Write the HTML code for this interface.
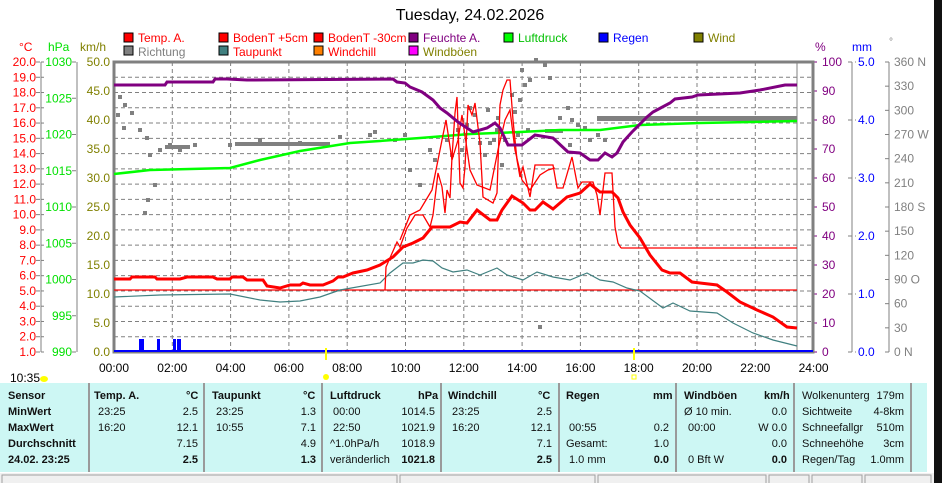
<!DOCTYPE html>
<html><head><meta charset="utf-8"><style>
body{margin:0;width:942px;height:483px;overflow:hidden;background:#fff;font-family:"Liberation Sans",sans-serif;position:relative}
svg{position:absolute;left:0;top:0}
.tb{position:absolute;left:0;top:383px;width:927px;height:89px;background:#cdf7f4;font-size:11px;color:#111}
.col{position:absolute;top:0;height:89px;border-right:2px solid #9a9a9a}
.r{position:absolute;white-space:nowrap}
.b{font-weight:bold}
</style></head><body>
<svg width="942" height="483" font-family="Liberation Sans, sans-serif">
<text x="470" y="20" font-size="16" text-anchor="middle">Tuesday, 24.02.2026</text>
<g font-size="12">
<rect x="124" y="33" width="9" height="9" fill="red" stroke="#000"/><text x="138" y="42" fill="red">Temp. A.</text>
<rect x="219" y="33" width="9" height="9" fill="red" stroke="#000"/><text x="233" y="42" fill="red">BodenT +5cm</text>
<rect x="314" y="33" width="9" height="9" fill="red" stroke="#000"/><text x="328" y="42" fill="red">BodenT -30cm</text>
<rect x="409" y="33" width="9" height="9" fill="#800080" stroke="#000"/><text x="423" y="42" fill="#800080">Feuchte A.</text>
<rect x="504" y="33" width="9" height="9" fill="#0f0" stroke="#000"/><text x="518" y="42" fill="#00c000">Luftdruck</text>
<rect x="599" y="33" width="9" height="9" fill="#00f" stroke="#000"/><text x="613" y="42" fill="#00f">Regen</text>
<rect x="694" y="33" width="9" height="9" fill="#808000" stroke="#000"/><text x="708" y="42" fill="#808000">Wind</text>
<rect x="124" y="46" width="9" height="9" fill="#808080" stroke="#000"/><text x="138" y="56" fill="#808080">Richtung</text>
<rect x="219" y="46" width="9" height="9" fill="#408080" stroke="#000"/><text x="233" y="56" fill="red">Taupunkt</text>
<rect x="314" y="46" width="9" height="9" fill="#ff8000" stroke="#000"/><text x="328" y="56" fill="red">Windchill</text>
<rect x="409" y="46" width="9" height="9" fill="#f0f" stroke="#000"/><text x="423" y="56" fill="#808000">Windböen</text>
</g>
<g font-size="12">
<text x="19" y="51" fill="red">°C</text><text x="48" y="51" fill="#00e000">hPa</text><text x="80" y="51" fill="#808000">km/h</text>
<text x="815" y="51" fill="#800080">%</text><text x="852" y="51" fill="#00f">mm</text><text x="889" y="45" fill="#808080" font-size="10">°</text>
</g>
<!-- left axes -->
<g stroke="#808080" stroke-width="1"><line x1="41" y1="62" x2="41" y2="352"/><line x1="77" y1="62" x2="77" y2="352"/><line x1="852" y1="62" x2="852" y2="352"/><line x1="889" y1="62" x2="889" y2="352"/></g>
<g font-size="12" fill="red" text-anchor="end" id="ct"></g>
<g font-size="12" fill="#00e000" text-anchor="end" id="pt"></g>
<g font-size="12" fill="#808000" text-anchor="end" id="wt"></g>
<g font-size="12" fill="#800080" id="ht"></g>
<g font-size="12" fill="#00f" id="mt"></g>
<g font-size="12" fill="#808080" id="dt"></g>
<g id="grid" stroke="#808080" stroke-dasharray="4,3" stroke-width="1"></g>
<rect x="114" y="62" width="699" height="290" fill="none" stroke="#808080" stroke-width="3"/>
<line x1="797" y1="62" x2="797" y2="352" stroke="#808080"/>
<g font-size="12" text-anchor="middle" id="xt"></g>
<!-- data -->
<line x1="114" y1="290" x2="797" y2="290" stroke="red" stroke-width="1.3"/>
<polyline fill="none" stroke="red" stroke-width="1.3" points="621,248 797,248"/>
<g fill="#808080">
<rect x="165" y="145" width="25" height="4"/><rect x="235" y="142" width="95" height="4"/><rect x="597" y="116" width="200" height="5"/><rect x="545" y="129" width="18" height="4"/>
</g>
<g fill="#808080" id="dots"></g>
<polyline fill="none" stroke="#00ff00" stroke-width="2.5" points="114,174 150,170 230,168 260,160 300,151 350,143 380,141 420,138 470,134 520,132 560,130 600,130 640,125 700,123 797,121"/>
<polyline fill="none" stroke="#408080" stroke-width="1.2" points="114,297 160,295 230,294 260,300 280,302 300,301 320,297 340,290 380,283 390,273 403,263 413,263 423,260 433,261 442,268 453,272 467,270 480,275 497,268 507,275 523,280 537,272 553,277 570,280 587,273 600,280 613,282 627,288 640,291 663,308 673,303 690,311 717,313 733,323 753,333 773,340 797,346"/>
<polyline fill="none" stroke="red" stroke-width="1.3" points="385,290 386,267 397,242 400,247 407,228 415,215 423,215 430,227 433,215 438,173 442,187 445,213 447,190 450,198 452,157 455,113 457,97 460,183 463,188 465,167 468,105 472,115 475,103 480,143 483,197 493,203 497,193 500,105 503,90 507,80 510,80 513,120 517,160 520,177 523,167 530,197 535,165 553,165 557,188 563,188 572,157 578,188 582,182 593,182 597,195 600,215 605,173 612,173 615,227 618,243 621,248"/>
<polyline fill="none" stroke="red" stroke-width="1.3" points="400,240 410,215 420,210 432,190 440,150 446,120 452,160 458,140 462,115 470,170 477,185 490,190 498,150 505,120 510,110 515,150 522,180 530,190 540,175 548,170 555,168"/>
<polyline fill="none" stroke="red" stroke-width="3" points="114,279 130,279 132,277 155,277 157,279 180,279 187,277 213,277 217,279 230,279 232,277 243,277 247,280 263,280 267,286 280,288 290,285 300,285 303,283 310,285 323,285 333,281 338,277 343,277 353,273 367,270 380,265 393,257 403,247 413,243 423,238 432,227 450,227 460,222 467,223 477,210 490,220 497,220 502,210 512,196 523,203 530,210 535,210 543,202 553,209 567,197 580,193 590,184 600,192 612,192 618,198 623,212 630,225 640,238 650,255 662,270 670,273 680,273 692,282 700,283 717,285 727,292 740,302 757,310 773,317 787,327 797,328"/>
<polyline fill="none" stroke="#800080" stroke-width="3" points="114,85 165,85 167,82 213,82 215,79 227,79 247,80 393,79 397,82 405,83 410,87 422,92 433,100 440,108 447,113 458,122 473,132 487,128 495,123 500,128 508,145 522,145 535,135 553,138 568,152 580,153 590,160 598,160 605,153 612,157 617,153 623,142 632,132 647,117 653,112 670,103 675,99 692,97 698,95 740,93 760,90 785,85 797,85"/>
<line x1="114" y1="351" x2="813" y2="351" stroke="#00f" stroke-width="2"/>
<g fill="#00f"><rect x="139" y="339" width="5" height="13"/><rect x="157" y="339" width="3" height="13"/><rect x="173" y="339" width="3" height="13"/><rect x="177" y="339" width="4" height="13"/></g>
<line x1="326" y1="348" x2="326" y2="360" stroke="#ff0" stroke-width="2"/>
<line x1="634" y1="348" x2="634" y2="360" stroke="#ff0" stroke-width="2"/>
<circle cx="326" cy="377" r="3" fill="#ff0"/><rect x="632" y="375" width="4" height="4" fill="none" stroke="#ff0"/>
<text x="10" y="382" font-size="12">10:35</text><ellipse cx="44" cy="379" rx="4" ry="3" fill="#ff0"/>
<rect x="934" y="0" width="8" height="483" fill="#111"/>
<rect x="0" y="473" width="934" height="10" fill="#f0f0f0"/>
<g fill="none" stroke="#a0a0a0"><rect x="2" y="475" width="395" height="9"/><rect x="400" y="475" width="195" height="9"/><rect x="598" y="475" width="168" height="9"/><rect x="769" y="475" width="40" height="9"/><rect x="812" y="475" width="50" height="9"/><rect x="865" y="475" width="66" height="9"/></g>
</svg>
<div class="tb">
<div class="col" style="left:0;width:88px"></div><div class="col" style="left:90px;width:113px"></div><div class="col" style="left:205px;width:116px"></div><div class="col" style="left:323px;width:117px"></div><div class="col" style="left:442px;width:116px"></div><div class="col" style="left:560px;width:115px"></div><div class="col" style="left:677px;width:116px"></div><div class="col" style="left:795px;width:115px"></div>
<div class="r b" style="left:8px;top:7px">Sensor</div><div class="r b" style="left:8px;top:23px">MinWert</div><div class="r b" style="left:8px;top:39px">MaxWert</div><div class="r b" style="left:8px;top:55px">Durchschnitt</div><div class="r b" style="left:8px;top:71px">24.02. 23:25</div>
<div class="r b" style="left:94px;top:7px">Temp. A.</div><div class="r b" style="left:186px;top:7px">°C</div>
<div class="r" style="left:98px;top:23px">23:25</div><div class="r" style="right:729px;top:23px">2.5</div>
<div class="r" style="left:98px;top:39px">16:20</div><div class="r" style="right:729px;top:39px">12.1</div>
<div class="r" style="right:729px;top:55px">7.15</div><div class="r b" style="right:729px;top:71px">2.5</div>
<div class="r b" style="left:212px;top:7px">Taupunkt</div><div class="r b" style="left:303px;top:7px">°C</div>
<div class="r" style="left:216px;top:23px">23:25</div><div class="r" style="right:611px;top:23px">1.3</div>
<div class="r" style="left:216px;top:39px">10:55</div><div class="r" style="right:611px;top:39px">7.1</div>
<div class="r" style="right:611px;top:55px">4.9</div><div class="r b" style="right:611px;top:71px">1.3</div>
<div class="r b" style="left:330px;top:7px">Luftdruck</div><div class="r b" style="left:418px;top:7px">hPa</div>
<div class="r" style="left:333px;top:23px">00:00</div><div class="r" style="right:492px;top:23px">1014.5</div>
<div class="r" style="left:333px;top:39px">22:50</div><div class="r" style="right:492px;top:39px">1021.9</div>
<div class="r" style="left:330px;top:55px">^1.0hPa/h</div><div class="r" style="right:492px;top:55px">1018.9</div>
<div class="r" style="left:330px;top:71px">veränderlich</div><div class="r b" style="right:492px;top:71px">1021.8</div>
<div class="r b" style="left:448px;top:7px">Windchill</div><div class="r b" style="left:538px;top:7px">°C</div>
<div class="r" style="left:452px;top:23px">23:25</div><div class="r" style="right:375px;top:23px">2.5</div>
<div class="r" style="left:452px;top:39px">16:20</div><div class="r" style="right:375px;top:39px">12.1</div>
<div class="r" style="right:375px;top:55px">7.1</div><div class="r b" style="right:375px;top:71px">2.5</div>
<div class="r b" style="left:566px;top:7px">Regen</div><div class="r b" style="left:653px;top:7px">mm</div>
<div class="r" style="left:569px;top:39px">00:55</div><div class="r" style="right:258px;top:39px">0.2</div>
<div class="r" style="left:566px;top:55px">Gesamt:</div><div class="r" style="right:258px;top:55px">1.0</div>
<div class="r" style="left:569px;top:71px">1.0 mm</div><div class="r b" style="right:258px;top:71px">0.0</div>
<div class="r b" style="left:684px;top:7px">Windböen</div><div class="r b" style="left:764px;top:7px">km/h</div>
<div class="r" style="left:684px;top:23px">Ø 10 min.</div><div class="r" style="right:140px;top:23px">0.0</div>
<div class="r" style="left:688px;top:39px">00:00</div><div class="r" style="right:140px;top:39px">W 0.0</div>
<div class="r" style="right:140px;top:55px">0.0</div>
<div class="r" style="left:688px;top:71px">0 Bft W</div><div class="r b" style="right:140px;top:71px">0.0</div>
<div class="r" style="left:802px;top:7px">Wolkenunterg</div><div class="r" style="right:23px;top:7px">179m</div>
<div class="r" style="left:802px;top:23px">Sichtweite</div><div class="r" style="right:23px;top:23px">4-8km</div>
<div class="r" style="left:802px;top:39px">Schneefallgr</div><div class="r" style="right:23px;top:39px">510m</div>
<div class="r" style="left:802px;top:55px">Schneehöhe</div><div class="r" style="right:23px;top:55px">3cm</div>
<div class="r" style="left:802px;top:71px">Regen/Tag</div><div class="r" style="right:23px;top:71px">1.0mm</div>
</div>
<script>
const NS="http://www.w3.org/2000/svg";
function t(g,x,y,s){const e=document.createElementNS(NS,"text");e.setAttribute("x",x);e.setAttribute("y",y);e.textContent=s;document.getElementById(g).appendChild(e);}
function l(g,x1,y1,x2,y2,c){const e=document.createElementNS(NS,"line");e.setAttribute("x1",x1);e.setAttribute("y1",y1);e.setAttribute("x2",x2);e.setAttribute("y2",y2);if(c)e.setAttribute("stroke",c);document.getElementById(g).appendChild(e);}
for(let i=0;i<=19;i++){const y=352-i*290/19;t("ct",36,y+4,(1+i).toFixed(1));l("grid",36,y,41,y,"#808080");l("grid",41,y,44,y,"#808080");if(i>0&&i<19)l("grid",114,y,813,y);}
for(let i=0;i<=8;i++){const y=352-i*290/8;t("pt",72,y+4,990+i*5);l("grid",72,y,77,y,"#808080");}
for(let i=0;i<=10;i++){const y=352-i*29;t("wt",110,y+4,(i*5).toFixed(1));t("ht",822,y+4,i*10);l("grid",813,y,820,y,"#800080");}
for(let i=0;i<=5;i++){const y=352-i*58;t("mt",858,y+4,i.toFixed(1));l("grid",848,y,856,y,"#808080");}
const d=["0   N","30","60","90  O","120","150","180 S","210","240","270 W","300","330","360 N"];
for(let i=0;i<=12;i++){const y=352-i*290/12;t("dt",894,y+4,d[i]);l("grid",885,y,889,y,"#808080");}
for(let h=0;h<=24;h+=2){const x=114+h*29.15;t("xt",x,372,(h<10?"0":"")+h+":00");if(h>0&&h<24)l("grid",x,62,x,352);}
const pts=[[120,97],[125,105],[118,115],[132,113],[124,128],[140,130],[147,138],[150,155],[160,150],[155,185],[148,200],[145,213],[170,145],[180,150],[195,145],[230,145],[260,140],[300,143],[340,137],[370,135],[375,132],[395,140],[405,135],[430,150],[447,140],[452,155],[467,125],[470,108],[475,115],[480,143],[485,155],[490,143],[494,140],[497,130],[502,165],[505,140],[512,95],[515,112],[520,100],[525,85],[522,70],[530,80],[536,60],[545,65],[550,78],[560,118],[568,108],[570,145],[572,120],[578,125],[585,128],[590,140],[598,135],[605,140],[540,327],[410,170],[420,185],[435,160],[458,130],[462,150],[488,110],[498,118],[518,135],[528,130]];
for(const p of pts){const r=document.createElementNS(NS,"rect");r.setAttribute("x",p[0]-2);r.setAttribute("y",p[1]-2);r.setAttribute("width",4);r.setAttribute("height",4);document.getElementById("dots").appendChild(r);}
</script>
</body></html>
